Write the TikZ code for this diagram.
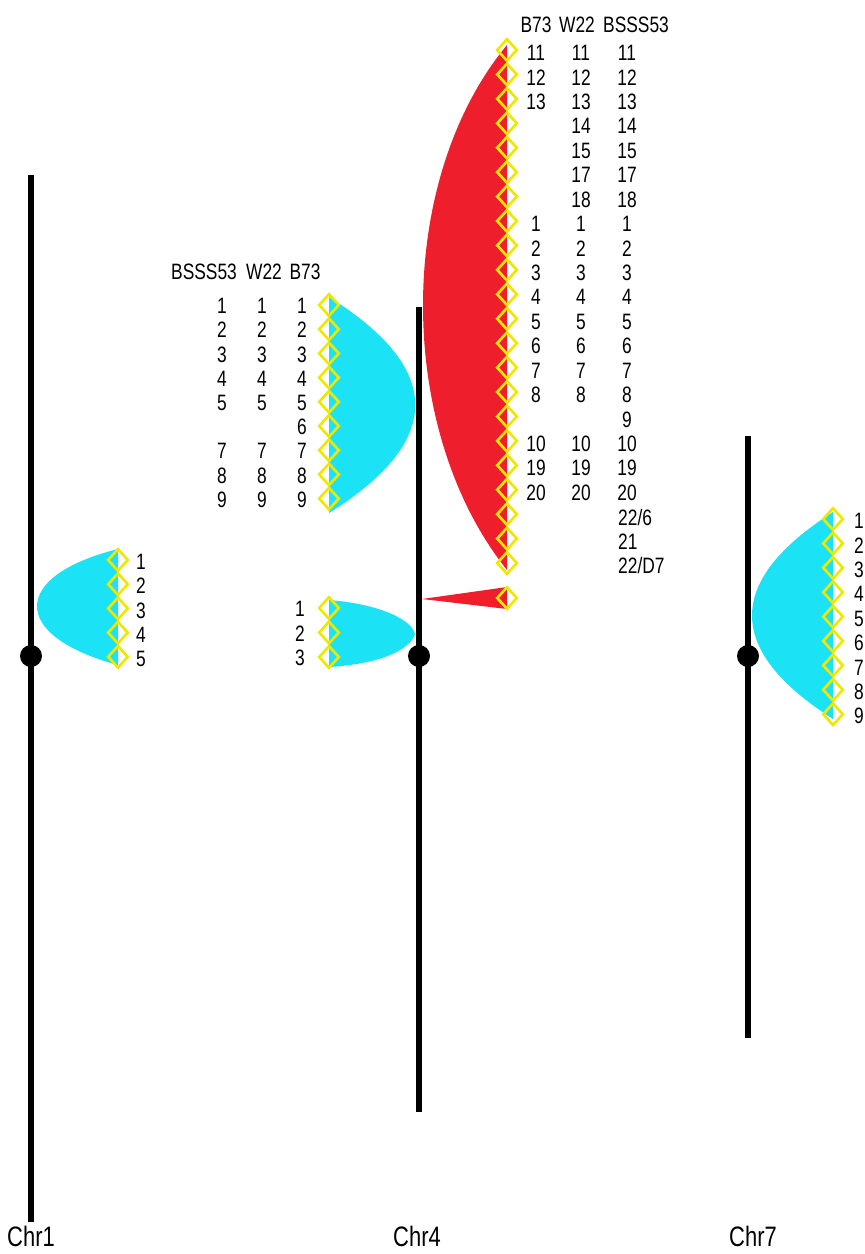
\documentclass[tikz,border=0pt]{standalone}
\usepackage{fontspec}
\setmainfont[FakeStretch=0.78]{Liberation Sans}
\usetikzlibrary{shapes.geometric}
\definecolor{qtlcyan}{RGB}{28,226,246}
\definecolor{qtlred}{RGB}{238,30,45}
\definecolor{mkyellow}{RGB}{238,232,0}

\begin{document}
\begin{tikzpicture}[x=0.03cm, y=-0.03cm,
    chrom/.style={line width=0.2cm},
    marker/.style={diamond, draw=mkyellow, line width=0.08cm, inner sep=0pt,
      minimum width=0.62cm, minimum height=0.68cm},
    num/.style={inner sep=0pt, font=\fontsize{19}{21}\selectfont},
    chrname/.style={inner sep=0pt, font=\fontsize{24}{26}\selectfont}
  ]
  \useasboundingbox (0,0) rectangle (865,1254);

  % QTL regions
  \fill[qtlcyan] (118,549) .. controls (10,576) and (10,636) .. (118,665) -- cycle;
  \fill[qtlcyan] (329,297) .. controls (444,369) and (444,441) .. (329,513) -- cycle;
  \fill[qtlcyan] (329,600) .. controls (380,604) and (412,620) .. (415,634)
    .. controls (410,650) and (380,664) .. (329,667) -- cycle;
  \fill[qtlred] (507,45) .. controls (395,180) and (395,430) .. (507,570) -- cycle;
  \fill[qtlred] (507,587) -- (422,599) -- (507,609) -- cycle;
  \fill[qtlcyan] (833,512) .. controls (725,581) and (725,650) .. (833,719) -- cycle;

  % chromosomes
  \coordinate (c1t) at (31,175);  \coordinate (c1b) at (31,1222);
  \coordinate (c4t) at (419,307); \coordinate (c4b) at (419,1112);
  \coordinate (c7t) at (748,436); \coordinate (c7b) at (748,1038);
  \draw[chrom] (c1t) -- (c1b);
  \draw[chrom] (c4t) -- (c4b);
  \draw[chrom] (c7t) -- (c7b);
  \fill (31,656) circle (11);
  \fill (419,656) circle (11);
  \fill (748,656) circle (11);
  \node[chrname] (chr1) at (31,1236) {Chr1};
  \node[chrname] (chr4) at (417,1236) {Chr4};
  \node[chrname] (chr7) at (753,1236) {Chr7};

  % Chr1
  \foreach \i in {1,...,5} {
    \node[marker] (a\i) at (118,{560+24.2*(\i-1)}) {};
    \node[num] (al\i) at (141,{562+24.2*(\i-1)}) {\i};
  }

  % Chr4, upper cyan
  \node[num] (hs1) at (204,272) {BSSS53};
  \node[num] (hw1) at (264,272) {W22};
  \node[num] (hb1) at (305,272) {B73};
  \foreach \i in {1,...,9} {
    \node[marker] (b\i) at (329,{305+24.2*(\i-1)}) {};
    \node[num] (bb\i) at (302,{306+24.2*(\i-1)}) {\i};
  }
  \foreach \i in {1,2,3,4,5,7,8,9} {
    \node[num] (bw\i) at (262,{306+24.2*(\i-1)}) {\i};
    \node[num] (bs\i) at (222,{306+24.2*(\i-1)}) {\i};
  }

  % Chr4, lower cyan
  \foreach \i in {1,2,3} {
    \node[marker] (d\i) at (329,{608+24.5*(\i-1)}) {};
    \node[num] (dl\i) at (300,{609+24.5*(\i-1)}) {\i};
  }

  % Chr4, red
  \node[num] (hb2) at (536,25) {B73};
  \node[num] (hw2) at (577,25) {W22};
  \node[num] (hs2) at (636,25) {BSSS53};
  \foreach \i in {0,...,21}
    \node[marker] (r\i) at (507,{50+24.43*\i}) {};
  \node[marker] (e1) at (507,598) {};
  \foreach \i/\t in {0/11,1/12,2/13,7/1,8/2,9/3,10/4,11/5,12/6,13/7,14/8,16/10,17/19,18/20}
    \node[num] (rb\i) at (536,{53+24.43*\i}) {\t};
  \foreach \i/\t in {0/11,1/12,2/13,3/14,4/15,5/17,6/18,7/1,8/2,9/3,10/4,11/5,12/6,13/7,14/8,16/10,17/19,18/20}
    \node[num] (rw\i) at (581,{53+24.43*\i}) {\t};
  \foreach \i/\t in {0/11,1/12,2/13,3/14,4/15,5/17,6/18,7/1,8/2,9/3,10/4,11/5,12/6,13/7,14/8,15/9,16/10,17/19,18/20}
    \node[num] (rs\i) at (627,{53+24.43*\i}) {\t};
  \foreach \i/\t in {19/22\slash 6,20/21,21/22\slash D7}
    \node[num, anchor=west] (rs\i) at (618,{53+24.43*\i}) {\t};

  % Chr7
  \foreach \i in {1,...,9} {
    \node[marker] (g\i) at (833,{519+24.4*(\i-1)}) {};
    \node[num] (gl\i) at (859,{521+24.4*(\i-1)}) {\i};
  }
\end{tikzpicture}
\end{document}
